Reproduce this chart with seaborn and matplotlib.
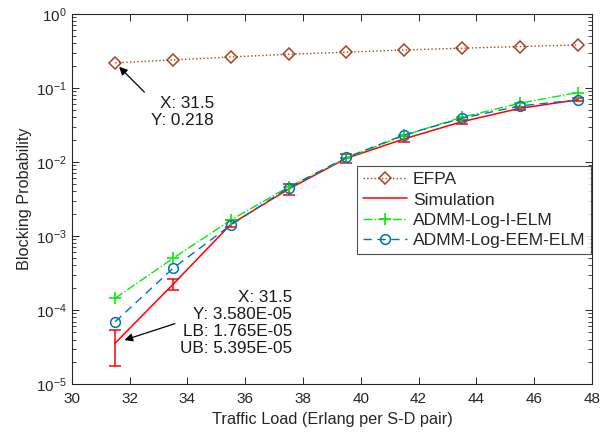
import numpy as np
import pandas as pd
import matplotlib
matplotlib.use("Agg")
import matplotlib.pyplot as plt
import seaborn as sns
from matplotlib.ticker import LogLocator, FixedLocator

# ---- data ----
loads = [31.5, 33.5, 35.5, 37.5, 39.5, 41.5, 43.5, 45.5, 47.5]
efpa = [0.218, 0.239, 0.262, 0.285, 0.304, 0.326, 0.344, 0.362, 0.381]
simulation = [3.58e-5, 2.22e-4, 1.44e-3, 4.3e-3, 0.0112, 0.0205, 0.035, 0.053, 0.069]
sim_lower = [1.765e-5, 1.86e-4, 1.33e-3, 3.6e-3, 0.0096, 0.0188, 0.0330, 0.0505, 0.0665]
sim_upper = [5.395e-5, 2.62e-4, 1.62e-3, 5.0e-3, 0.0128, 0.0225, 0.0372, 0.0560, 0.0725]
i_elm = [1.44e-4, 5.0e-4, 1.64e-3, 4.6e-3, 0.0113, 0.0228, 0.0402, 0.0621, 0.0865]
eem_elm = [6.95e-5, 3.66e-4, 1.41e-3, 4.5e-3, 0.0115, 0.0232, 0.0389, 0.0571, 0.0689]
x_ticks = [30, 32, 34, 36, 38, 40, 42, 44, 46, 48]

sns.set_theme(style="ticks")
plt.rcParams['font.family'] = ['Liberation Sans', 'DejaVu Sans']
plt.rcParams['mathtext.fontset'] = 'custom'
plt.rcParams['mathtext.rm'] = 'Liberation Sans'
plt.rcParams['mathtext.it'] = 'Liberation Sans'

fig = plt.figure(figsize=(6.09, 4.34), dpi=100)
ax = fig.add_axes([0.118, 0.115, 0.854, 0.853])

efpa_c = '#a8441a'
sim_c = '#ff0000'
ielm_c = '#00ee00'
eem_c = '#0072bd'

df = pd.DataFrame({'load': loads, 'efpa': efpa, 'sim': simulation,
                   'ielm': i_elm, 'eem': eem_elm})

sns.lineplot(data=df, x='load', y='efpa', ax=ax, color=efpa_c, linestyle=':',
             marker='D', markersize=6, markerfacecolor='none',
             markeredgecolor=efpa_c, markeredgewidth=1.1, lw=1.0, label='EFPA')
sns.lineplot(data=df, x='load', y='sim', ax=ax, color=sim_c, linestyle='-',
             lw=1.1, label='Simulation')
sns.lineplot(data=df, x='load', y='ielm', ax=ax, color=ielm_c, linestyle='-.',
             marker='+', markersize=9, markeredgecolor=ielm_c, markeredgewidth=1.2,
             lw=1.0, label='ADMM-Log-I-ELM')
sns.lineplot(data=df, x='load', y='eem', ax=ax, color=eem_c, linestyle=(0, (6, 4)),
             marker='o', markersize=7, markerfacecolor='none',
             markeredgecolor=eem_c, markeredgewidth=1.1, lw=1.0, label='ADMM-Log-EEM-ELM')

sim_arr = np.array(simulation)
yerr = np.vstack([sim_arr - np.array(sim_lower), np.array(sim_upper) - sim_arr])
ax.errorbar(loads, simulation, yerr=yerr, fmt='none', ecolor=sim_c,
            elinewidth=1.1, capsize=4, capthick=1.1, zorder=1)

ax.set_yscale('log')
ax.set_xlim(30, 48)
ax.set_ylim(1e-5, 1)
ax.xaxis.set_major_locator(FixedLocator(x_ticks))
ax.yaxis.set_major_locator(LogLocator(base=10, numticks=10))
ax.yaxis.set_minor_locator(LogLocator(base=10, subs=np.arange(2, 10), numticks=20))

ax.set_xlabel('Traffic Load (Erlang per S-D pair)', fontsize=11.7, color='#262626', labelpad=4)
ax.set_ylabel('Blocking Probability', fontsize=11.7, color='#262626', labelpad=3)

ax.tick_params(axis='both', which='both', direction='in', top=True, right=True,
               labelsize=11, colors='#262626')
ax.tick_params(axis='both', which='major', length=5, width=0.7)
ax.tick_params(axis='both', which='minor', length=3, width=0.6)
ax.tick_params(axis='x', pad=6)
for s in ax.spines.values():
    s.set_color('#262626')
    s.set_linewidth(0.8)

leg = ax.legend(loc='upper left', bbox_to_anchor=(0.548, 0.589), fontsize=12.6,
                frameon=True, fancybox=False, edgecolor='#262626',
                handlelength=2.5, handletextpad=0.35, borderpad=0.35,
                labelspacing=0.28, borderaxespad=0)
leg.get_frame().set_linewidth(0.8)

# data tips
ax.annotate('', xy=(31.5, efpa[0]), xytext=(21, -21), textcoords='offset points',
            arrowprops=dict(arrowstyle='-|>', color='black', lw=0.9,
                            shrinkA=0, shrinkB=4, mutation_scale=12))
ax.text(0.273, 0.736, 'X: 31.5\nY: 0.218', transform=ax.transAxes,
        ha='right', va='center', multialignment='right', fontsize=12.3,
        color='#1a1a1a', linespacing=1.15)

ax.annotate('', xy=(31.5, simulation[0]), xytext=(43, 14), textcoords='offset points',
            arrowprops=dict(arrowstyle='-|>', color='black', lw=0.9,
                            shrinkA=0, shrinkB=7, mutation_scale=12))
ax.text(0.423, 0.165, 'X: 31.5\nY: 3.580E-05\nLB: 1.765E-05\nUB: 5.395E-05',
        transform=ax.transAxes, ha='right', va='center', multialignment='right',
        fontsize=12.3, color='#1a1a1a', linespacing=1.15)

fig.savefig('out.png', dpi=100)
